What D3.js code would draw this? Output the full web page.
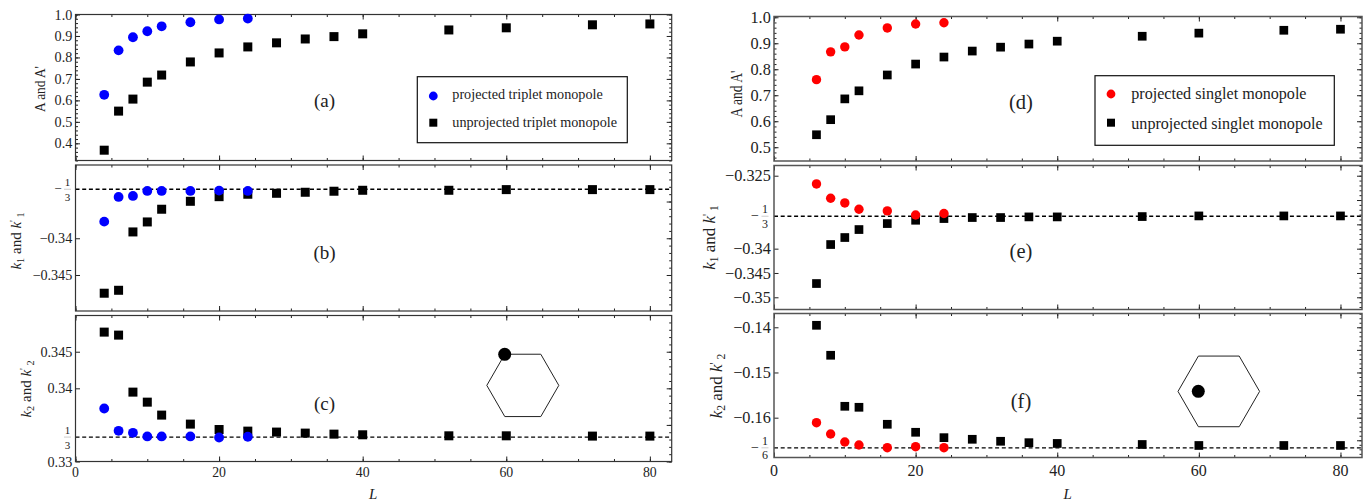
<!DOCTYPE html>
<html lang="en">
<head>
  <meta charset="utf-8">
  <title>monopole overlaps</title>
  <script src="https://cdn.jsdelivr.net/npm/d3@7"></script>
  <style>
    body { margin: 0; background: white; }
    svg { display: block; }
    text { font-family: "Liberation Serif", serif; fill: #222; }
  </style>
</head>
<body>
  <script>
    // Parameters
    var width = 1369, height = 502;

    // Data
    var sizesTriplet = [4, 6, 8, 10, 12, 16, 20, 24];
    var sizesSinglet = [6, 8, 10, 12, 16, 20, 24];
    var sizesUnprojT = [4, 6, 8, 10, 12, 16, 20, 24, 28, 32, 36, 40, 52, 60, 72, 80];
    var sizesUnprojS = [6, 8, 10, 12, 16, 20, 24, 28, 32, 36, 40, 52, 60, 72, 80];

    var aProjected = [.626, .833, .894, .922, .945, .964, .977, .981];
    var aUnprojected = [.368, .55, .606, .685, .718, .779, .821, .849, .868, .886, .897, .91, .928, .938, .952, .956];
    var bProjected = [-.33774, -.33438, -.33424, -.33356, -.33356, -.33356, -.33352, -.33356];
    var bUnprojected = [-.34748, -.34708, -.33914, -.33778, -.33605, -.33497, -.33434, -.33401, -.33388, -.33374, -.3336, -.33347, -.33347, -.33338, -.33338, -.33338];
    var cProjected = [.33724, .33419, .33392, .33342, .33342, .33342, .33328, .33338];
    var cUnprojected = [.34768, .34727, .33948, .33811, .33634, .33511, .33437, .33415, .33402, .33388, .33374, .33365, .33351, .33351, .33347, .33347];

    var dProjected = [.76, .867, .886, .932, .959, .974, .979];
    var dUnprojected = [.548, .606, .686, .717, .778, .82, .847, .87, .885, .897, .908, .927, .939, .95, .954];
    var eProjected = [-.32669, -.32963, -.3306, -.33189, -.33224, -.33307, -.33278];
    var eUnprojected = [-.34717, -.33915, -.33771, -.33607, -.33484, -.33416, -.33381, -.3336, -.3336, -.33347, -.33347, -.3334, -.33327, -.33327, -.33327];
    var fProjected = [-.16111, -.16361, -.16538, -.16604, -.16664, -.16642, -.16664];
    var fUnprojected = [-.13956, -.14619, -.15748, -.1577, -.16146, -.16323, -.16442, -.16478, -.16522, -.16553, -.1657, -.16593, -.16615, -.16615, -.16615];

    var svg = d3.select("body").append("svg").attr("width", width).attr("height", height);

    var leftColumn = { x0: 75.5, x1: 671.7, color: "#0000ff", sizes: sizesTriplet, sizesUnproj: sizesUnprojT,
      tickFont: 14.2, xFont: 13.8, titleFont: 15, titleLen: 46, kFont: 15, frame: "#333", frameWidth: 1.2, r: 4.9, sq: 9,
      fracOffset: 8, fracFont: 11, minusFont: 13, xLabelDy: 15, lDy: 37.5 };
    var rightColumn = { x0: 774, x1: 1362, color: "#ff0000", sizes: sizesSinglet, sizesUnproj: sizesUnprojS,
      tickFont: 16.3, xFont: 16, titleFont: 17, titleLen: 47, kFont: 17, frame: "#555", frameWidth: 1.5, r: 4.7, sq: 8.7,
      fracOffset: 9, fracFont: 12, minusFont: 14, xLabelDy: 18, lDy: 41.5 };

    var panels = [
      { col: leftColumn, top: 14.5, bottom: 160.5, domain: [.32, 1.0], major: d3.range(4, 11).map(function (d) { return d / 10; }),
        minor: d3.range(32, 101, 2).map(function (d) { return d / 100; }), leftMinor: true, fmt: d3.format(".1f"),
        proj: aProjected, unproj: aUnprojected, tag: "(a)", tagX: 324.5, tagY: 107, label: "A and A'", labelX: 45, labelY: 89 },
      { col: leftColumn, top: 165, bottom: 311, domain: [-.34990, -.33003], major: [-.34, -.345, -.335], hide: [-.335],
        minor: d3.range(-349, -330).map(function (d) { return d / 1000; }), fmt: d3.format(".3~f"),
        frac: { v: -1 / 3, den: "3", neg: true }, dash: -1 / 3,
        proj: bProjected, unproj: bUnprojected, tag: "(b)", tagX: 324.5, tagY: 259, sub: "1", labelX: 21, labelY: 241 },
      { col: leftColumn, top: 315.5, bottom: 461.5, domain: [.33, .34995], major: [.33, .335, .34, .345], hide: [.335],
        minor: d3.range(330, 350).map(function (d) { return d / 1000; }), fmt: d3.format(".3~f"),
        frac: { v: 1 / 3, den: "3", neg: false }, dash: 1 / 3,
        proj: cProjected, unproj: cUnprojected, tag: "(c)", tagX: 324.5, tagY: 410, sub: "2", labelX: 31, labelY: 389 },

      { col: rightColumn, top: 16.5, bottom: 161, domain: [.447, 1.003], major: d3.range(5, 11).map(function (d) { return d / 10; }),
        minor: d3.range(46, 101, 2).map(function (d) { return d / 100; }), leftMinor: true, fmt: d3.format(".1f"),
        proj: dProjected, unproj: dUnprojected, tag: "(d)", tagX: 1021, tagY: 109, label: "A and A'", labelX: 742, labelY: 94 },
      { col: rightColumn, top: 165.5, bottom: 309.5, domain: [-.35251, -.3229], major: [-.325, -.33, -.335, -.34, -.345, -.35], hide: [-.33, -.335],
        minor: d3.range(-352, -322).map(function (d) { return d / 1000; }), fmt: d3.format(".3~f"),
        frac: { v: -1 / 3, den: "3", neg: true }, dash: -1 / 3,
        proj: eProjected, unproj: eUnprojected, tag: "(e)", tagX: 1021, tagY: 258, sub: "1", labelX: 715, labelY: 237.5 },
      { col: rightColumn, top: 313.5, bottom: 457.5, domain: [-.16881, -.13695], major: [-.14, -.145, -.15, -.155, -.16, -.165], hide: [-.145, -.155, -.165],
        minor: d3.range(-168, -136).map(function (d) { return d / 1000; }), fmt: d3.format(".2f"),
        frac: { v: -1 / 6, den: "6", neg: true }, dash: -1 / 6,
        proj: fProjected, unproj: fUnprojected, tag: "(f)", tagX: 1021, tagY: 408, sub: "2", labelX: 722, labelY: 386 }
    ];

    var xMax = 83.04;
    var xMajor = d3.range(0, 81, 20), xMinor = d3.range(0, 81, 5);

    function tickLayer(g, axis, transform) {
      var a = g.append("g").attr("transform", transform).call(axis);
      a.selectAll("path").attr("stroke", "none");
      a.selectAll("line").attr("stroke", "#222").attr("stroke-width", 1);
      return a;
    }

    panels.forEach(function (p) {
      var col = p.col;
      var xScale = d3.scaleLinear().domain([0, xMax]).range([col.x0, col.x1]);
      var yScale = d3.scaleLinear().domain(p.domain).range([p.bottom, p.top]);
      var g = svg.append("g");

      // dashed reference line goes under the points
      if (p.dash !== undefined) {
        g.append("line")
          .attr("x1", col.x0).attr("x2", col.x1)
          .attr("y1", yScale(p.dash)).attr("y2", yScale(p.dash))
          .attr("stroke", "black").attr("stroke-width", 1.3).attr("stroke-dasharray", "4,2.7");
      }

      // x ticks, inward on top and bottom
      tickLayer(g, d3.axisBottom(xScale).tickValues(xMinor).tickSize(-2.5).tickFormat(""), "translate(0," + p.bottom + ")");
      tickLayer(g, d3.axisBottom(xScale).tickValues(xMajor).tickSize(-5).tickFormat(""), "translate(0," + p.bottom + ")");
      tickLayer(g, d3.axisTop(xScale).tickValues(xMinor).tickSize(-2.5).tickFormat(""), "translate(0," + p.top + ")");
      tickLayer(g, d3.axisTop(xScale).tickValues(xMajor).tickSize(-5).tickFormat(""), "translate(0," + p.top + ")");

      // y ticks, inward on both sides
      var lo = Math.min.apply(null, p.domain), hi = Math.max.apply(null, p.domain);
      var minor = p.minor.filter(function (d) { return d >= lo && d <= hi; });
      var hide = p.hide || [];
      tickLayer(g, d3.axisRight(yScale).tickValues(p.leftMinor ? minor : []).tickSize(2.5).tickFormat(""), "translate(" + col.x0 + ",0)");
      tickLayer(g, d3.axisLeft(yScale).tickValues(minor).tickSize(2.5).tickFormat(""), "translate(" + col.x1 + ",0)");
      tickLayer(g, d3.axisLeft(yScale).tickValues(p.major).tickSize(5).tickFormat(""), "translate(" + col.x1 + ",0)");
      var leftMajor = p.major.filter(function (d) { return hide.indexOf(d) < 0; });
      var yAxisG = tickLayer(g, d3.axisRight(yScale).tickValues(leftMajor).tickSize(4.5).tickFormat(p.fmt), "translate(" + col.x0 + ",0)");
      yAxisG.selectAll("text")
        .attr("x", -3.2).attr("text-anchor", "end")
        .style("font-family", '"Liberation Serif", serif').style("font-size", col.tickFont + "px");

      // frame
      g.append("rect")
        .attr("x", col.x0).attr("y", p.top)
        .attr("width", col.x1 - col.x0).attr("height", p.bottom - p.top)
        .attr("fill", "none").attr("stroke", col.frame).attr("stroke-width", col.frameWidth);

      // fraction tick label
      if (p.frac) {
        var fy = yScale(p.frac.v);
        var fx = col.x0 - col.fracOffset;
        g.append("text").attr("x", fx).attr("y", fy - 3).attr("text-anchor", "middle").style("font-size", col.fracFont + "px").text("1");
        g.append("line").attr("x1", fx - 3.5).attr("x2", fx + 3.5).attr("y1", fy).attr("y2", fy).attr("stroke", "#999").attr("stroke-width", .5);
        g.append("text").attr("x", fx).attr("y", fy + 11.5).attr("text-anchor", "middle").style("font-size", col.fracFont + "px").text(p.frac.den);
        if (p.frac.neg) {
          g.append("text").attr("x", fx - 6).attr("y", fy + 4).attr("text-anchor", "end").style("font-size", col.minusFont + "px").text("\u2212");
        }
      }

      // unprojected squares, then projected circles
      g.selectAll("rect.unproj").data(p.unproj).enter().append("rect")
        .attr("class", "unproj")
        .attr("x", function (d, i) { return xScale(col.sizesUnproj[i]) - col.sq / 2; })
        .attr("y", function (d) { return yScale(d) - col.sq / 2; })
        .attr("width", col.sq).attr("height", col.sq).attr("fill", "black");
      g.selectAll("circle.proj").data(p.proj).enter().append("circle")
        .attr("class", "proj")
        .attr("cx", function (d, i) { return xScale(col.sizes[i]); })
        .attr("cy", function (d) { return yScale(d); })
        .attr("r", col.r).attr("fill", col.color);

      // panel letter
      g.append("text").attr("x", p.tagX).attr("y", p.tagY).attr("text-anchor", "middle")
        .style("font-size", (col === leftColumn ? 19 : 20.5) + "px").text(p.tag);

      // y axis title, rotated
      var t = g.append("text")
        .attr("transform", "translate(" + p.labelX + "," + p.labelY + ") rotate(-90)")
        .attr("text-anchor", "middle");
      if (p.label) {
        // the picture squeezes this title along its length
        t.style("font-size", col.titleFont + "px")
          .attr("textLength", col.titleLen).attr("lengthAdjust", "spacingAndGlyphs")
          .text(p.label);
      } else {
        var small = col.kFont * .68;
        t.style("font-size", col.kFont + "px");
        t.append("tspan").attr("font-style", "italic").text("k");
        t.append("tspan").attr("dy", 3).style("font-size", small + "px").text(p.sub);
        t.append("tspan").attr("dy", -3).text(" and ");
        t.append("tspan").attr("font-style", "italic").text("k");
        t.append("tspan").attr("dy", -4).style("font-size", small + "px").text("'");
        t.append("tspan").attr("dy", 7).style("font-size", small + "px").text(" " + p.sub);
      }

      // x axis labels on the bottom panels only
      if (p.tag === "(c)" || p.tag === "(f)") {
        g.append("g").selectAll("text").data(xMajor).enter().append("text")
          .attr("x", function (d) { return xScale(d); }).attr("y", p.bottom + col.xLabelDy)
          .attr("text-anchor", "middle").style("font-size", col.xFont + "px").text(function (d) { return d; });
        g.append("text")
          .attr("x", xScale(40) + 10.5).attr("y", p.bottom + col.lDy)
          .attr("text-anchor", "middle").attr("font-style", "italic").style("font-size", "15px").text("L");
      }
    });

    // Legends
    function legend(x, y, w, h, color, names, fontSize, markX, textX, markRows, textRows) {
      svg.append("rect").attr("x", x).attr("y", y).attr("width", w).attr("height", h)
        .attr("fill", "white").attr("stroke", "#111").attr("stroke-width", 1.2);
      svg.append("circle").attr("cx", markX).attr("cy", markRows[0]).attr("r", 4.4).attr("fill", color);
      svg.append("rect").attr("x", markX - 4).attr("y", markRows[1] - 4).attr("width", 8).attr("height", 8).attr("fill", "black");
      svg.append("text").attr("x", textX).attr("y", textRows[0]).style("font-size", fontSize + "px").text(names[0]);
      svg.append("text").attr("x", textX).attr("y", textRows[1]).style("font-size", fontSize + "px").text(names[1]);
    }
    var tripletNames = ["projected triplet monopole", "unprojected triplet monopole"];
    var singletNames = ["projected singlet monopole", "unprojected singlet monopole"];
    legend(417.3, 76.7, 210, 66, "#0000ff", tripletNames, 14.2, 433.3, 452.3, [96, 122.7], [98.7, 126.7]);
    legend(1095, 75.7, 239.3, 69.6, "#ff0000", singletNames, 16.1, 1111, 1131.3, [94, 122.7], [98.7, 129]);

    // Hexagon insets
    function hexagon(cx, cy, r, dotX, dotY) {
      var hex = d3.lineRadial().curve(d3.curveLinearClosed)
        .angle(function (d) { return d; }).radius(r);
      svg.append("path").attr("transform", "translate(" + cx + "," + cy + ")")
        .attr("d", hex(d3.range(6).map(function (i) { return Math.PI / 2 + i * Math.PI / 3; })))
        .attr("fill", "none").attr("stroke", "#222").attr("stroke-width", 1);
      svg.append("circle").attr("cx", dotX).attr("cy", dotY).attr("r", 6.5).attr("fill", "black");
    }
    hexagon(522.8, 385.4, 36, 504.7, 354.3);
    hexagon(1218.8, 391.4, 40.8, 1198.3, 391.3);
  </script>
</body>
</html>
